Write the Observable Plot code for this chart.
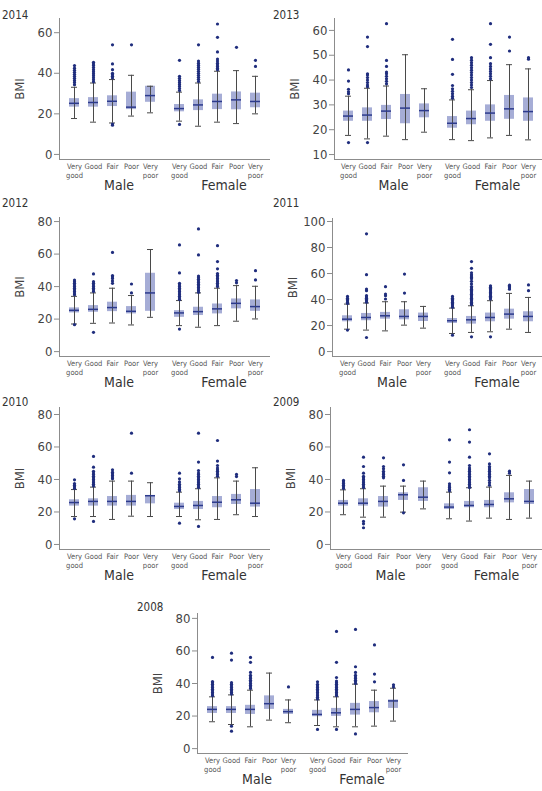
<!DOCTYPE html>
<html><head><meta charset="utf-8">
<script src="https://cdn.jsdelivr.net/npm/d3@7"></script>
<script src="https://cdn.jsdelivr.net/npm/@observablehq/plot@0.6"></script>
<style>
body{margin:0;background:#fff;}
#root{position:relative;width:542px;height:791px;overflow:hidden;font-family:"DejaVu Sans Condensed","Liberation Sans Narrow",Roboto,sans-serif;}
.panel{position:absolute;}
.year{position:absolute;font-size:11.5px;line-height:16px;color:#333;}
</style></head><body><div id="root"></div>
<script>
// ---- data ----
const years = [2014, 2013, 2012, 2011, 2010, 2009, 2008];
const sexes = ["Male", "Female"];
const categories = ["Very good", "Good", "Fair", "Poor", "Very poor"];
const yTicks = [
  [0, 20, 40, 60],
  [10, 20, 30, 40, 50, 60],
  [0, 20, 40, 60, 80],
  [0, 20, 40, 60, 80, 100],
  [0, 20, 40, 60, 80],
  [0, 20, 40, 60, 80],
  [0, 20, 40, 60, 80]
];
const yDomains = [[-2.5, 67], [8, 64.8], [-3, 82.5], [-3.8, 102.3], [-3.1, 84.3], [-3.1, 84.3], [-3, 83]];
// order of each row: Male VG,G,F,P,VP then Female VG,G,F,P,VP
const whiskerLow = [
  [17.7, 15.9, 15.5, 18.9, 20.5, 16.4, 13.9, 15.9, 15.2, 20],
  [17.7, 16.3, 17.4, 16, 19, 16, 15.6, 16.7, 17.7, 15.9],
  [17, 17.4, 17.6, 16.4, 21.1, 16, 15, 16, 18.7, 20.1],
  [17.2, 16.5, 15.9, 20.3, 18, 13.9, 14.7, 15.2, 17.2, 14.7],
  [17.2, 17.2, 15.4, 17.4, 17.2, 17.2, 15.2, 15.4, 18.3, 17.2],
  [18.3, 16.8, 16.8, 19.9, 21.9, 15.8, 14.4, 16.2, 15.4, 16.2],
  [16.5, 14.8, 13.4, 17.5, 15.9, 14.2, 13.4, 13.4, 13.8, 16.9]
];
const q1 = [
  [23.3, 23.3, 23.6, 22.1, 25.7, 21, 21.6, 22.1, 22, 23],
  [23.4, 23.4, 24.1, 22.4, 24.8, 20.6, 22, 23.4, 24.2, 23.4],
  [23.8, 24.2, 24.6, 23.2, 24.8, 21.1, 22.2, 23.2, 26.3, 24.8],
  [22.9, 23.7, 24.9, 24.4, 23.1, 21.6, 21.1, 22.9, 24.9, 22.9],
  [23.6, 23.6, 23.6, 23.6, 25, 21.5, 21.5, 22.6, 24.6, 23],
  [23.6, 23.6, 23, 27.1, 26.5, 21.5, 22.6, 22.6, 25.6, 24.6],
  [21.6, 21.6, 21, 24.1, 21, 19.6, 19.8, 20.6, 22, 24.7]
];
const median = [
  [25.2, 25.6, 26.2, 23.3, 29, 22.6, 24.4, 26.1, 26.9, 26.1],
  [25.5, 25.9, 27.5, 28.7, 27.7, 22.6, 24.5, 26.7, 28.4, 27.3],
  [25.4, 26, 27.1, 24.8, 36.1, 23.8, 24.6, 26.3, 29.7, 27.7],
  [24.9, 26.2, 27.5, 27, 27, 23.7, 24.4, 26.2, 28.8, 27],
  [25.8, 26.5, 26.5, 26.5, 30, 23.4, 24, 26, 27.5, 25.4],
  [25.4, 25.4, 26.5, 30.6, 29.1, 23, 24, 24.6, 28.1, 26.5],
  [24.1, 24.1, 24.1, 27.6, 22.7, 21, 22, 24.1, 25.2, 29.3]
];
const q3 = [
  [27.5, 28, 28.9, 30.7, 33.6, 24.6, 26.9, 29.7, 30.8, 30.2],
  [27.5, 28.8, 29.8, 34.2, 30.4, 25.3, 27.5, 30, 33.8, 32.8],
  [26.9, 28.3, 30.4, 27.7, 48.2, 25.2, 27.3, 29.3, 32.4, 31.8],
  [27.5, 29.3, 30.1, 32.1, 29.6, 25.4, 27, 29.6, 32.6, 30.6],
  [27.5, 28.1, 29.5, 30.2, 30.2, 25.4, 26.5, 29.5, 30.8, 33.8],
  [27.1, 28.1, 29.5, 31.8, 34.9, 25, 26.5, 27.1, 31.8, 33.8],
  [25.8, 25.8, 26.6, 32.4, 24.1, 23.5, 24.7, 27.8, 28.9, 29.9]
];
const whiskerHigh = [
  [33.1, 35.2, 36.9, 39, 33.6, 30.7, 35.2, 41, 41.3, 38.5],
  [33.5, 36.7, 37.6, 50.2, 36.5, 32, 36.1, 39.8, 46.2, 44.5],
  [34, 36.1, 39, 34.5, 62.8, 31.4, 36.1, 39, 40.6, 40.2],
  [36.5, 37.3, 38.3, 38.3, 34.7, 33.4, 35.2, 39.1, 44.7, 41.6],
  [33.8, 35.3, 39, 39, 38, 32.2, 34.3, 41, 39, 47.2],
  [33.6, 34.3, 35.9, 35.9, 39, 32.2, 34.9, 35.3, 42.5, 39],
  [31.8, 33, 35.9, 46.4, 29.9, 29.9, 31.8, 39.6, 35.9, 37.1]
];
const outliers = [
  [ // 2014
    [34.4,35.5,36.5,37.5,38.5,39.5,40.5,41.5,42.5,43.8],
    [35.8,36.8,37.8,38.8,39.8,40.8,41.8,42.8,43.8,44.6,45.4],
    [14.4,15,37.7,38.5,39.3,40,41.8,44.6,54],
    [54],
    [],
    [14.8,31.5,32.5,33.5,34.5,35.5,36.5,37.5,38.5,46.4],
    [36,37,38,39,40,41,42,43,44,45,46,54],
    [41.8,42.5,43.3,44.1,45,46,47,50.5,57.7,64.3],
    [52.8],
    [43.4,46.4]
  ],
  [ // 2013
    [14.8,34.5,35.3,36.3,39.6,44.1],
    [14.8,37.3,38,39,40,41,42,42.5,53.5,57.3],
    [38.5,39.5,40.5,41.5,42.5,43.2,45.5,47.9,62.7],
    [],
    [],
    [32.7,33.5,34.5,35.5,36.5,37.8,42.3,48.3,56.4],
    [37,38,39,40,41,42,43,44,45,46,47,48,49],
    [40.5,41.5,42.5,43.5,44.5,45.5,46.6,49,54.4,62.7],
    [51.7,57.3],
    [48.4,49]
  ],
  [ // 2012
    [16.6,35,36,37,38,39,40,41,42,43,44],
    [11.9,37,38,39,40,41,42,43,47.8],
    [42,43.5,45,46,46.8,61],
    [36.1,41.6],
    [],
    [13.9,32,33,34,35,36,37,38,39,40,41,42,48.4,65.6],
    [36.5,37.5,38.5,39.5,40.5,41.5,42.5,43.5,44.5,45.5,46.5,59.5,75.5],
    [40,41,42,43,44,45,46,47,48,50.9,55.4,65.2],
    [42.3,43.7],
    [44.1,49.8]
  ],
  [ // 2011
    [16.5,37,38,39,40,41,42.4],
    [10.8,38,39,40,41,42,43,46.8,48.1,59.1,90.5],
    [40.4,42.9,44.2,49.9],
    [45,59.6],
    [],
    [12.6,34,35,36,37,38,39,40,41,42.4],
    [11.3,36,37,38,39,40,41,42,43,44,45,46,47,48,49,50,52,54,56,57,58,59,60.5,64,69.2],
    [11.3,40.5,41.5,42.5,43.5,44.5,45.5,46.5,47.5,48.5,49.5,50.6],
    [48,49,50,51],
    [46.8,51.2]
  ],
  [ // 2010
    [15.8,34.5,35.5,36.5,37.5,39.8],
    [14.2,36,37,38,39,40,41,42,43,44,45,47.6,54.2],
    [40.5,41.5,42.5,43.5,44.5,46],
    [43.9,68.5],
    [],
    [13.1,33,34,35,36,37,38.5,40.4,43.9],
    [11.1,35,36,37,38,39,40,41,42,43,44,45.5,50.7,68.5],
    [42,43,44,45,46,47,48.6,51.3,64],
    [41.8,43.1],
    []
  ],
  [ // 2009
    [34.5,35.5,36.5,37.5,38.5,39.4],
    [10.3,12.7,14.2,35,36,37,38,39,40,41,42,43.9,48,53.7],
    [41,42,43,44,45,46.6,48,53.3],
    [19.5,39.4,49],
    [],
    [33,34,35,36,37.3,44.1,50.7,64.4],
    [35,36,37,38,39,40,41,42,43,44,45,46,47,48.6,53.7,63,70.6],
    [36.5,38,39.5,41,42,43,44,45,46,47,48,49.6,55.8],
    [43.9,45.1],
    []
  ],
  [ // 2008
    [32.5,33.5,34.5,35.5,36.5,37.5,38.5,39.5,40.5,41.2,56],
    [10.7,13.8,33.5,34.5,35.5,36.5,37.5,38.5,39.5,40.5,54.4,58.6],
    [37,38,39,40,41,42,43,44,45,46.8,53,56],
    [],
    [37.9],
    [11.8,30.5,31.5,32.5,33.5,34.5,35.5,36.5,37.5,38.5,39.5,41],
    [11.8,32.5,33.5,34.5,35.5,36.5,37.5,38.5,39.5,40.5,41.5,43.7,53,72],
    [9,40,41,42,43,44,45,46.8,50.3,73.2],
    [41,45.8,63.7],
    [37.9,39.2]
  ]
];

// ---- layout (page positions of each small multiple) ----
const layout = [
  {left: 0,   top: 0,   width: 271, mLeft: 58, mRight: 2, plotH: 141, yearX: 2,   yearY: 7},
  {left: 271, top: 0,   width: 271, mLeft: 62, mRight: 0, plotH: 141, yearX: 273, yearY: 7},
  {left: 0,   top: 199, width: 271, mLeft: 58, mRight: 2, plotH: 139, yearX: 2,   yearY: 195},
  {left: 271, top: 200, width: 271, mLeft: 61, mRight: 0, plotH: 138, yearX: 273, yearY: 195},
  {left: 0,   top: 389, width: 271, mLeft: 58, mRight: 2, plotH: 142, yearX: 2,   yearY: 394},
  {left: 271, top: 389, width: 271, mLeft: 59, mRight: 0, plotH: 142, yearX: 273, yearY: 394},
  {left: 139, top: 595, width: 270, mLeft: 58, mRight: 2, plotH: 140, yearX: 137, yearY: 599}
];

const FONT = '"DejaVu Sans Condensed","Liberation Sans Narrow",Roboto,sans-serif';
const root = document.getElementById("root");
const AXIS = "#8c8c8c", BOX = "#a6add6", MED = "#2c3a8c", WHISK = "#4a4a4a", DOT = "#1f2d7d";

years.forEach((year, i) => {
  const cfg = layout[i];
  const rows = [], outs = [];
  sexes.forEach((sex, s) => categories.forEach((cat, c) => {
    const k = s * 5 + c;
    rows.push({sex, cat, lo: whiskerLow[i][k], q1: q1[i][k], med: median[i][k], q3: q3[i][k], hi: whiskerHigh[i][k]});
    outliers[i][k].forEach(v => outs.push({sex, cat, v}));
  }));
  const mTop = 18, mBottom = 38;
  const chart = Plot.plot({
    width: cfg.width,
    height: mTop + cfg.plotH + mBottom,
    marginLeft: cfg.mLeft, marginRight: cfg.mRight, marginTop: mTop, marginBottom: mBottom,
    style: {fontFamily: FONT, background: "transparent", color: "#444", overflow: "visible"},
    fx: {domain: sexes, padding: 0},
    x: {domain: categories, paddingInner: 0.5, paddingOuter: 0.4},
    y: {domain: yDomains[i]},
    marks: [
      Plot.frame({anchor: "bottom", stroke: AXIS}),
      Plot.frame({anchor: "left", facetAnchor: "left", stroke: AXIS}),
      Plot.axisY(yTicks[i], {tickSize: 5, tickPadding: 2, fontSize: 13, stroke: AXIS, color: "#444",
        label: "BMI", labelAnchor: "center", labelArrow: "none", labelOffset: 45}),
      Plot.axisX({tickSize: 0, tickPadding: 3, fontSize: 7.5, lineHeight: 1.2, color: "#555",
        tickFormat: d => d.replace(" ", "\n"), label: null}),
      Plot.axisFx({anchor: "bottom", tickSize: 0, tickPadding: 21, fontSize: 14, color: "#333", dx: 7, label: null}),
      Plot.barY(rows, {fx: "sex", x: "cat", y1: "q1", y2: "q3", fill: BOX}),
      Plot.ruleX(rows, {fx: "sex", x: "cat", y1: "lo", y2: "hi", stroke: WHISK, strokeWidth: 1}),
      Plot.tickY(rows, {fx: "sex", x: "cat", y: "lo", stroke: WHISK, insetLeft: 2, insetRight: 2}),
      Plot.tickY(rows, {fx: "sex", x: "cat", y: "hi", stroke: WHISK, insetLeft: 2, insetRight: 2}),
      Plot.tickY(rows, {fx: "sex", x: "cat", y: "med", stroke: MED, strokeWidth: 1.5}),
      Plot.dot(outs, {fx: "sex", x: "cat", y: "v", r: 1.6, fill: DOT})
    ]
  });
  const wrap = document.createElement("div");
  wrap.className = "panel";
  wrap.style.left = cfg.left + "px";
  wrap.style.top = cfg.top + "px";
  wrap.appendChild(chart);
  root.appendChild(wrap);
  const lab = document.createElement("div");
  lab.className = "year";
  lab.style.left = cfg.yearX + "px";
  lab.style.top = cfg.yearY + "px";
  lab.textContent = year;
  root.appendChild(lab);
});
</script></body></html>
